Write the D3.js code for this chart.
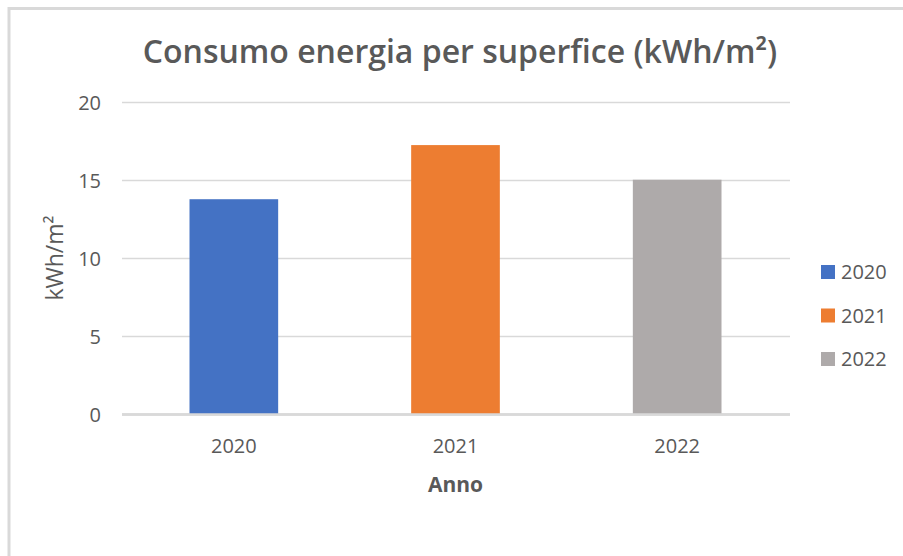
<!DOCTYPE html>
<html>
<head>
<meta charset="utf-8">
<script src="https://cdn.jsdelivr.net/npm/d3@7"></script>
<style>
  body { margin: 0; background: #fff; }
  svg text { font-family: "Open Sans", "Noto Sans", sans-serif; fill: #595959; }
</style>
</head>
<body>
<div id="chart"></div>
<script>
// data
var years = ['2020', '2021', '2022'];
var values = [13.8, 17.27, 15.05];
var colors = ['#4472C4', '#ED7D31', '#AEAAAA'];
var yTicks = [0, 5, 10, 15, 20];

var width = 903, height = 556;
var plot = {left: 123, right: 788, top: 102.5, bottom: 414.5};

var svg = d3.select('#chart').append('svg')
    .attr('width', width)
    .attr('height', height);

// chart border (only top + left visible in the crop)
svg.append('path')
    .attr('d', 'M9,' + height + 'V8.5H' + width)
    .attr('fill', 'none')
    .attr('stroke', '#d9d9d9')
    .attr('stroke-width', 3);

var x = d3.scaleBand()
    .domain(years)
    .range([plot.left, plot.right])
    .paddingInner(0.6)
    .paddingOuter(0.3);

var y = d3.scaleLinear()
    .domain([0, 20])
    .range([plot.bottom, plot.top]);

// gridlines
svg.append('g')
  .selectAll('line')
    .data(yTicks)
  .enter().append('line')
    .attr('x1', plot.left - 1)
    .attr('x2', plot.right + 2)
    .attr('y1', d => y(d))
    .attr('y2', d => y(d))
    .attr('stroke', '#d9d9d9')
    .attr('stroke-width', d => d === 0 ? 2.5 : 1.5);

// bars
svg.append('g')
  .selectAll('rect')
    .data(years)
  .enter().append('rect')
    .attr('x', d => x(d))
    .attr('width', x.bandwidth())
    .attr('y', (d, i) => y(values[i]))
    .attr('height', (d, i) => y(0) - y(values[i]))
    .attr('fill', (d, i) => colors[i]);

// redraw baseline on top of the bars
svg.append('line')
    .attr('x1', plot.left - 1).attr('x2', plot.right + 2)
    .attr('y1', y(0)).attr('y2', y(0))
    .attr('stroke', '#d9d9d9').attr('stroke-width', 2.5);

// y tick labels
svg.append('g')
  .selectAll('text')
    .data(yTicks)
  .enter().append('text')
    .attr('x', 101)
    .attr('y', d => y(d))
    .attr('dy', '0.36em')
    .attr('text-anchor', 'end')
    .style('font-size', '20px')
    .text(d => d);

// x tick labels
svg.append('g')
  .selectAll('text')
    .data(years)
  .enter().append('text')
    .attr('x', d => x(d) + x.bandwidth() / 2)
    .attr('y', 453)
    .attr('text-anchor', 'middle')
    .style('font-size', '20px')
    .text(d => d);

// axis titles
svg.append('text')
    .attr('x', (plot.left + plot.right) / 2)
    .attr('y', 492)
    .attr('text-anchor', 'middle')
    .style('font-size', '21px')
    .style('font-weight', 'bold')
    .text('Anno');

svg.append('text')
    .attr('transform', 'translate(63,258) rotate(-90)')
    .attr('text-anchor', 'middle')
    .style('font-size', '23px')
    .style('font-weight', '500')
    .text('kWh/m²');

// title
svg.append('text')
    .attr('x', 460)
    .attr('y', 63)
    .attr('text-anchor', 'middle')
    .style('font-size', '32px')
    .style('font-weight', '600')
    .text('Consumo energia per superfice (kWh/m²)');

// legend
var legend = svg.append('g')
  .selectAll('g')
    .data(years)
  .enter().append('g')
    .attr('transform', (d, i) => 'translate(821,' + (272 + i * 43.5) + ')');

legend.append('rect')
    .attr('x', 0).attr('y', -7)
    .attr('width', 14).attr('height', 14)
    .attr('fill', (d, i) => colors[i]);

legend.append('text')
    .attr('x', 20)
    .attr('dy', '0.36em')
    .style('font-size', '20px')
    .text(d => d);
</script>
</body>
</html>
